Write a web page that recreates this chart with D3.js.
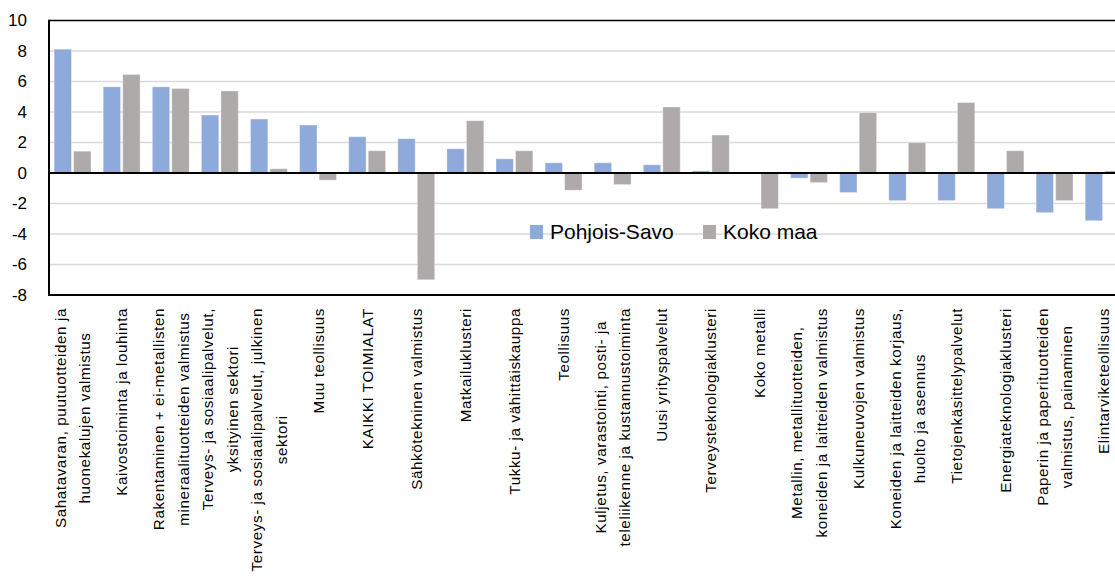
<!DOCTYPE html>
<html><head><meta charset="utf-8">
<script src="https://cdn.jsdelivr.net/npm/d3@7"></script>
<style>
html,body{margin:0;padding:0;background:#fff;}
svg{display:block;font-family:"Liberation Sans",Arial,sans-serif;}
</style></head>
<body><svg id="c" width="1115" height="579"></svg>
<script>
const categories = [
  ["Sahatavaran, puutuotteiden ja","huonekalujen valmistus"],
  ["Kaivostoiminta ja louhinta"],
  ["Rakentaminen + ei-metallisten","mineraalituotteiden valmistus"],
  ["Terveys- ja sosiaalipalvelut,","yksityinen sektori"],
  ["Terveys- ja sosiaalipalvelut, julkinen","sektori"],
  ["Muu teollisuus"],
  ["KAIKKI TOIMIALAT"],
  ["Sähkötekninen valmistus"],
  ["Matkailuklusteri"],
  ["Tukku- ja vähittäiskauppa"],
  ["Teollisuus"],
  ["Kuljetus, varastointi, posti- ja","teleliikenne ja kustannustoiminta"],
  ["Uusi yrityspalvelut"],
  ["Terveysteknologiaklusteri"],
  ["Koko metalli"],
  ["Metallin, metallituotteiden,","koneiden ja laitteiden valmistus"],
  ["Kulkuneuvojen valmistus"],
  ["Koneiden ja laitteiden korjaus,","huolto ja asennus"],
  ["Tietojenkäsittelypalvelut"],
  ["Energiateknologiaklusteri"],
  ["Paperin ja paperituotteiden","valmistus, painaminen"],
  ["Elintarviketeollisuus"]
];
const seriesNames = ["Pohjois-Savo","Koko maa"];
const pohjoisSavo = [8.12,5.65,5.65,3.80,3.54,3.15,2.38,2.25,1.59,0.93,0.67,0.67,0.54,0.14,0.0,-0.34,-1.28,-1.81,-1.81,-2.34,-2.60,-3.13];
const kokoMaa =     [1.43,6.46,5.54,5.38,0.28,-0.47,1.46,-7.0,3.43,1.46,-1.13,-0.76,4.33,2.49,-2.34,-0.63,3.96,1.99,4.62,1.46,-1.81,0.14];
const yTicks = [-8,-6,-4,-2,0,2,4,6,8,10];
const colors = ["#8eaadb","#aeaaaa"];

const svg = d3.select("#c");
const mLeft = 49, mTop = 20.5, mBottom = 295, mRight = 48 + 22*49.1;
const ids = categories.map((d,i)=>i);
const x = d3.scaleBand().domain(ids).range([48, mRight]).padding(0);
const x1 = d3.scaleBand().domain([0,1]).range([6.1, x.bandwidth()-6.1]).paddingInner(0.11);
const y = d3.scaleLinear().domain([-8,10]).range([mBottom, mTop]);

// gridlines
svg.append("g").selectAll("line").data(yTicks.filter(t=>t!==0 && t!==10 && t!==-8)).join("line")
  .attr("x1", mLeft).attr("x2", 1115).attr("y1", d=>y(d)).attr("y2", d=>y(d))
  .attr("stroke","#d9d9d9").attr("stroke-width",1.5);

// bars
const data = ids.map(i=>[pohjoisSavo[i], kokoMaa[i]]);
const g = svg.append("g");
ids.forEach(i=>{
  data[i].forEach((v,s)=>{
    if (v===0) return;
    g.append("rect")
      .attr("x", x(i)+x1(s)).attr("width", x1.bandwidth())
      .attr("y", y(Math.max(0,v))).attr("height", Math.abs(y(v)-y(0)))
      .attr("fill", colors[s]).attr("stroke","#ffffff").attr("stroke-opacity",0.35).attr("stroke-width",1);
  });
});

// frame
svg.append("line").attr("x1",mLeft).attr("x2",1115).attr("y1",y(10)).attr("y2",y(10)).attr("stroke","#000").attr("stroke-width",1.5);
svg.append("line").attr("x1",mLeft).attr("x2",1115).attr("y1",y(-8)).attr("y2",y(-8)).attr("stroke","#000").attr("stroke-width",2);
svg.append("line").attr("x1",mLeft).attr("x2",1115).attr("y1",y(0)).attr("y2",y(0)).attr("stroke","#000").attr("stroke-width",2);
svg.append("line").attr("x1",mLeft).attr("x2",mLeft).attr("y1",y(10)-0.8).attr("y2",y(-8)+1).attr("stroke","#000").attr("stroke-width",2);

// y axis labels
const yAxis = d3.axisLeft(y).tickValues(yTicks).tickSize(0).tickPadding(0).tickFormat(d3.format("d"));
const ya = svg.append("g").attr("transform",`translate(27,0)`).call(yAxis);
ya.select(".domain").remove();
ya.selectAll("text").attr("font-size",17).attr("fill","#000").attr("font-family","Liberation Sans, Arial, sans-serif")
  .text(d=>d<0? "-"+Math.abs(d) : d);

// x labels
const fs = 15.2, lh = 24.5, labelTop = 308;
const lg = svg.append("g");
ids.forEach(i=>{
  const lines = categories[i];
  const cx = x(i) + x.bandwidth()/2;
  const t = lg.append("g").attr("transform",`translate(${cx},${labelTop}) rotate(-90)`);
  const texts = lines.map((ln,k)=> t.append("text").attr("font-size",fs).attr("fill","#000")
      .attr("letter-spacing",0.6)
      .attr("text-anchor","middle").attr("dominant-baseline","central")
      .attr("y",(k-(lines.length-1)/2)*lh).text(ln));
  const L = d3.max(texts, tx=>tx.node().getComputedTextLength());
  texts.forEach(tx=>tx.attr("x",-L/2));
});

// legend
const leg = svg.append("g");
const legItems = [{name:seriesNames[0],c:colors[0],x:530},{name:seriesNames[1],c:colors[1],x:703}];
legItems.forEach(it=>{
  leg.append("rect").attr("x",it.x).attr("y",225).attr("width",13).attr("height",14).attr("fill",it.c);
  leg.append("text").attr("x",it.x+20).attr("y",238.5).attr("font-size",21).attr("fill","#000").text(it.name);
});
</script></body></html>
